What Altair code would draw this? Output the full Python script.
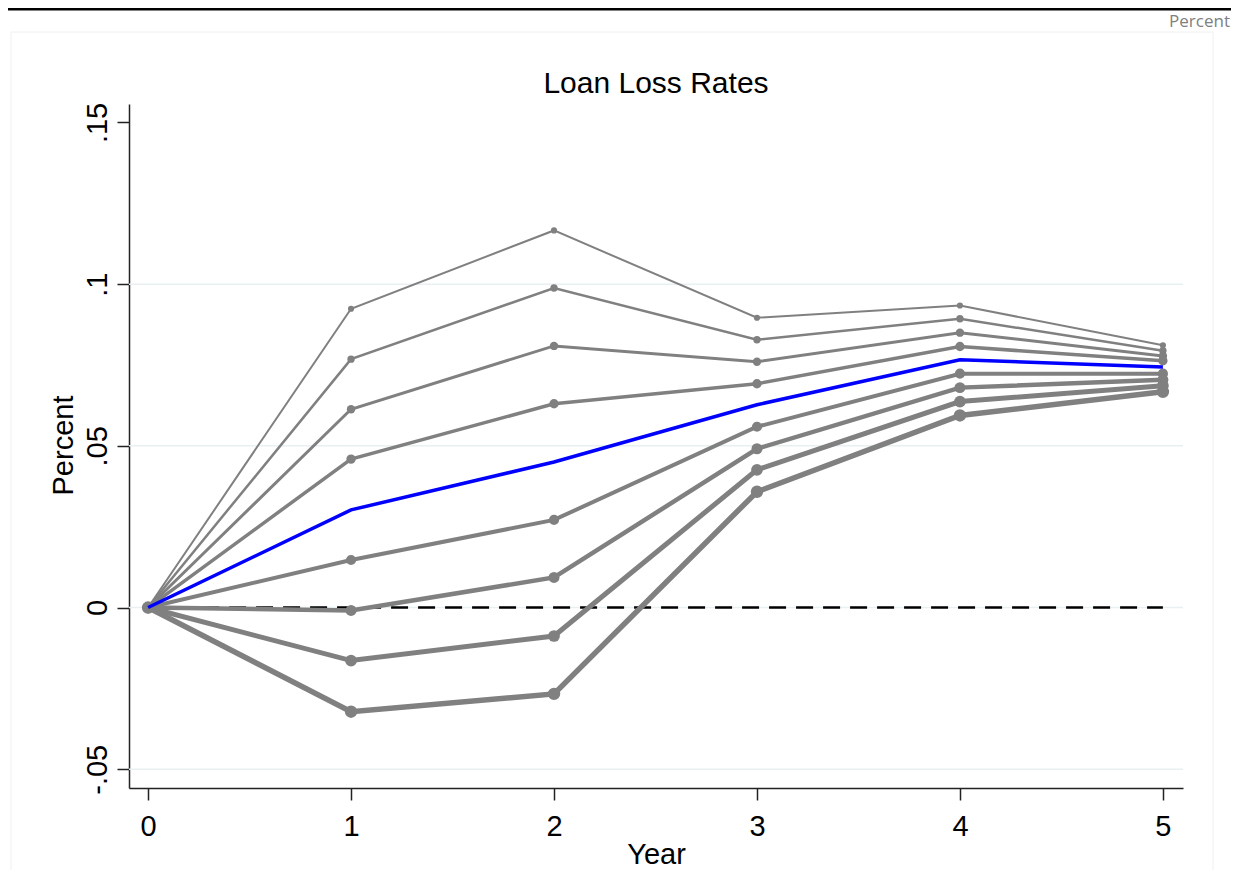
import altair as alt
import pandas as pd

# ---- data ----
years = [0, 1, 2, 3, 4, 5]
series_names = ["s1", "s2", "s3", "s4", "s6", "s7", "s8", "s9"]
series_rank = [1, 2, 3, 4, 5, 6, 7, 8]
s1 = [0, 0.0924, 0.1166, 0.0896, 0.0934, 0.0811]
s2 = [0, 0.0768, 0.0988, 0.0828, 0.0893, 0.0794]
s3 = [0, 0.0613, 0.0809, 0.0760, 0.0850, 0.0778]
s4 = [0, 0.0459, 0.0630, 0.0692, 0.0807, 0.0763]
s6 = [0, 0.0147, 0.0271, 0.0559, 0.0723, 0.0723]
s7 = [0, -0.0009, 0.0093, 0.0491, 0.0680, 0.0704]
s8 = [0, -0.0164, -0.0088, 0.0426, 0.0637, 0.0686]
s9 = [0, -0.0322, -0.0267, 0.0358, 0.0594, 0.0667]
baseline = [0, 0.0302, 0.0450, 0.0627, 0.0766, 0.0744]
grid_values = [-0.05, 0, 0.05, 0.1]
y_ticks = [-0.05, 0, 0.05, 0.1, 0.15]
zero_line_x = [0, 5]
zero_line_y = [0, 0]

# ---- styles ----
WIDTH_RANGE = [2.0, 5.5]
SIZE_RANGE = [38, 154]
GRAY = "#808080"
FONT = "Liberation Sans"

gray_series = [s1, s2, s3, s4, s6, s7, s8, s9]
rows = []
for name, rk, vals in zip(series_names, series_rank, gray_series):
    for yr, v in zip(years, vals):
        rows.append({"series": name, "rank": rk, "year": yr, "value": v})
df = pd.DataFrame(rows)
df_blue = pd.DataFrame({"year": years, "value": baseline})
df_grid = pd.DataFrame({"value": grid_values})
df_zero = pd.DataFrame({"year": zero_line_x, "value": zero_line_y})
one = pd.DataFrame({"a": [0]})

xscale = alt.Scale(domain=[-0.094, 5.099], nice=False, zero=False)
yscale = alt.Scale(domain=[-0.0558, 0.1557], nice=False, zero=False)

x_axis = alt.Axis(
    values=years, title="Year", labelFont=FONT, titleFont=FONT,
    labelFontSize=29, titleFontSize=29, labelColor="#000", titleColor="#000",
    tickSize=12, labelPadding=12, domainColor="#222", tickColor="#222",
    domainWidth=1.5, tickWidth=1.5, grid=False, labelFontWeight="normal",
    titleFontWeight="normal", titleBaseline="alphabetic", titleY=75,
    labelFlush=False,
)
y_axis = alt.Axis(
    values=y_ticks, title="Percent", labelFont=FONT, titleFont=FONT,
    labelFontSize=29, titleFontSize=29, labelColor="#000", titleColor="#000",
    labelAngle=270, labelAlign="center", labelBaseline="alphabetic",
    tickSize=12, labelPadding=11, domainColor="#222", tickColor="#222",
    domainWidth=1.5, tickWidth=1.5, grid=False,
    labelExpr="replace(replace(format(datum.value, '.2~f'), '\u2212', '-'), '0.', '.')",
    titleAngle=270, titleAlign="center", titleBaseline="alphabetic",
    titleX=-57, titleY=341, titleFontWeight="normal", labelFlush=False,
)

grid = alt.Chart(df_grid).mark_rule(color="#e8f0f2", strokeWidth=1.5).encode(
    y=alt.Y("value:Q", scale=yscale, axis=y_axis)
)

zero = alt.Chart(df_zero).mark_line(
    color="#000", strokeWidth=2.5, strokeDash=[17, 10]
).encode(
    x=alt.X("year:Q", scale=xscale, axis=x_axis),
    y=alt.Y("value:Q", scale=yscale, axis=y_axis),
)

lines = alt.Chart(df).mark_line(color=GRAY).encode(
    x=alt.X("year:Q", scale=xscale, axis=x_axis),
    y=alt.Y("value:Q", scale=yscale, axis=y_axis),
    detail="series:N",
    strokeWidth=alt.StrokeWidth(
        "rank:Q", scale=alt.Scale(domain=[1, 8], range=WIDTH_RANGE, zero=False), legend=None
    ),
)

points = alt.Chart(df).mark_point(filled=True, color=GRAY, opacity=1, shape="circle").encode(
    x=alt.X("year:Q", scale=xscale, axis=x_axis),
    y=alt.Y("value:Q", scale=yscale, axis=y_axis),
    size=alt.Size(
        "rank:Q", scale=alt.Scale(domain=[1, 8], range=SIZE_RANGE, zero=False), legend=None
    ),
)

blue = alt.Chart(df_blue).mark_line(color="#0000ff", strokeWidth=3.5).encode(
    x=alt.X("year:Q", scale=xscale, axis=x_axis),
    y=alt.Y("value:Q", scale=yscale, axis=y_axis),
)

# outer faint frame (top, left, right edges)
frame_top = alt.Chart(one).mark_rule(color="#f0f0f0", strokeWidth=1).encode(
    x=alt.value(-118), x2=alt.value(1084), y=alt.value(-72)
)
frame_left = alt.Chart(one).mark_rule(color="#f0f0f0", strokeWidth=1).encode(
    x=alt.value(-118), y=alt.value(-72), y2=alt.value(800)
)
frame_right = alt.Chart(one).mark_rule(color="#f0f0f0", strokeWidth=1).encode(
    x=alt.value(1084), y=alt.value(-72), y2=alt.value(800)
)

top_rule = alt.Chart(one).mark_rule(color="#000", strokeWidth=3).encode(
    x=alt.value(-121), x2=alt.value(1102), y=alt.value(-95)
)

corner_text = alt.Chart(pd.DataFrame({"t": ["Percent"]})).mark_text(
    font="Open Sans", fontSize=17, color="#808080", align="right", baseline="alphabetic"
).encode(text="t:N", x=alt.value(1101), y=alt.value(-77))

title_text = alt.Chart(pd.DataFrame({"t": ["Loan Loss Rates"]})).mark_text(
    font=FONT, fontSize=30, color="#000", align="center", baseline="alphabetic"
).encode(text="t:N", x=alt.value(527), y=alt.value(-11.5))

chart = alt.layer(
    grid, zero, lines, points, blue,
    frame_top, frame_left, frame_right, top_rule, corner_text, title_text,
).properties(
    width=1054,
    height=684,
    autosize=alt.AutoSizeParams(type="none"),
    padding={"left": 121, "top": 96, "right": 48, "bottom": 82},
    background="white",
).configure_view(stroke=None)

chart.save("out.html", embed_options={"renderer": "svg", "actions": False})
